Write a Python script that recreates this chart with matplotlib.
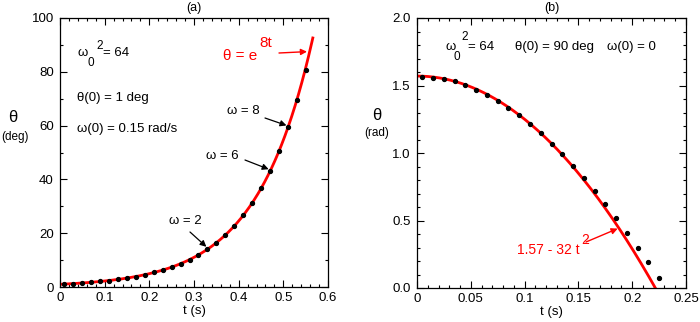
import numpy as np
import matplotlib
matplotlib.use("Agg")
import matplotlib.pyplot as plt
from matplotlib.ticker import MultipleLocator, FixedLocator, FixedFormatter

plt.rcParams['font.family'] = ['Liberation Sans', 'DejaVu Sans']

W, H = 700, 322

# ---- panel (a): growing inverted pendulum ----
t_a = [0.01, 0.03, 0.05, 0.07, 0.09, 0.11, 0.13, 0.15, 0.17, 0.19,
       0.21, 0.23, 0.25, 0.27, 0.29, 0.31, 0.33, 0.35, 0.37, 0.39,
       0.41, 0.43, 0.45, 0.47, 0.49, 0.51, 0.53, 0.55]
theta_a = [1.1, 1.3, 1.5, 1.75, 2.05, 2.4, 2.8, 3.3, 3.9, 4.6,
           5.4, 6.3, 7.4, 8.7, 10.2, 12.0, 14.0, 16.5, 19.3, 22.7,
           26.6, 31.2, 36.8, 43.0, 50.4, 59.3, 69.5, 80.6]
t_a_end = 0.566
a_xticks = [0, 0.1, 0.2, 0.3, 0.4, 0.5, 0.6]
a_xlabels = ["0", "0.1", "0.2", "0.3", "0.4", "0.5", "0.6"]
a_yticks = [0, 20, 40, 60, 80, 100]
a_ylabels = ["0", "20", "40", "60", "80", "100"]

# ---- panel (b): release from horizontal ----
t_b = [0.005, 0.015, 0.025, 0.035, 0.045, 0.055, 0.065, 0.075, 0.085,
       0.095, 0.105, 0.115, 0.125, 0.135, 0.145, 0.155, 0.165, 0.175,
       0.185, 0.195, 0.205, 0.215, 0.225]
theta_b = [1.562, 1.557, 1.547, 1.532, 1.503, 1.470, 1.433, 1.386, 1.336,
           1.280, 1.215, 1.148, 1.069, 0.993, 0.904, 0.817, 0.718, 0.619,
           0.515, 0.408, 0.297, 0.189, 0.074]
b_xticks = [0, 0.05, 0.1, 0.15, 0.2, 0.25]
b_xlabels = ["0", "0.05", "0.1", "0.15", "0.2", "0.25"]
b_yticks = [0.0, 0.5, 1.0, 1.5, 2.0]
b_ylabels = ["0.0", "0.5", "1.0", "1.5", "2.0"]

RED = "#ff0000"
FS = 9.5

fig = plt.figure(figsize=(W / 100, H / 100), dpi=100)


def px_axes(left, top, right, bottom):
    return fig.add_axes([left / W, 1 - bottom / H, (right - left) / W, (bottom - top) / H])


def style(ax, xt, xl, yt, yl, xminor, yminor):
    ax.xaxis.set_major_locator(FixedLocator(xt))
    ax.xaxis.set_major_formatter(FixedFormatter(xl))
    ax.yaxis.set_major_locator(FixedLocator(yt))
    ax.yaxis.set_major_formatter(FixedFormatter(yl))
    ax.xaxis.set_minor_locator(MultipleLocator(xminor))
    ax.yaxis.set_minor_locator(MultipleLocator(yminor))
    ax.tick_params(which='both', direction='in', top=True, right=True,
                   labelsize=FS, width=0.8)
    ax.tick_params(which='major', length=5)
    ax.tick_params(which='minor', length=2.5)
    ax.tick_params(axis='x', pad=3.5)
    ax.tick_params(axis='y', pad=4.5)
    for s in ax.spines.values():
        s.set_linewidth(0.9)


# panel (a)
axA = px_axes(60, 18, 328, 287)
tA = np.linspace(0, t_a_end, 300)
axA.plot(tA, np.exp(8 * tA), color=RED, lw=2.0, zorder=2)
axA.plot(t_a, theta_a, 'o', color='black', ms=2.8, zorder=3)
axA.set_xlim(0, 0.6)
axA.set_ylim(0, 100)
style(axA, a_xticks, a_xlabels, a_yticks, a_ylabels, 0.02, 10)
axA.set_title("(a)", fontsize=9, pad=5)
axA.set_xlabel("t (s)", fontsize=FS, labelpad=1)


def fx(ax, x, y):
    # pixel position (from top-left of figure) -> figure fraction
    return (x / W, 1 - y / H)


def ftext(x, y, s, **kw):
    kw.setdefault('fontsize', FS)
    kw.setdefault('va', 'center')
    kw.setdefault('ha', 'left')
    fig.text(x / W, 1 - y / H, s, **kw)


# y label of (a)
ftext(13, 118, "θ", fontsize=12, ha='center')
ftext(15, 137, "(deg)", fontsize=8.5, ha='center')

# parameters of (a)
ftext(77, 53, "ω")
ftext(88, 63, "0", fontsize=8.5)
ftext(96, 46, "2", fontsize=8.5)
ftext(103, 53, "= 64")
ftext(77, 98, "θ(0) = 1 deg")
ftext(77, 129, "ω(0) = 0.15 rad/s")

# red label on exponential
ftext(223, 56, "θ = e", fontsize=11, color=RED)
ftext(259, 43, "8t", fontsize=11, color=RED)
axA.annotate("", xy=(0.553, 87.5), xycoords='data',
             xytext=fx(axA, 279, 53), textcoords='figure fraction',
             arrowprops=dict(arrowstyle='-|>', color=RED, lw=1.0,
                             mutation_scale=9, shrinkA=0, shrinkB=0))

# omega labels with black arrows
omega_marks = [("ω = 8", 227, 111, 265, 118, 0.51),
               ("ω = 6", 206, 156, 245, 160, 0.47),
               ("ω = 2", 169, 221, 190, 232, 0.33)]
for txt, lx, ly, ax_, ay_, tp in omega_marks:
    ftext(lx, ly, txt)
    yv = theta_a[t_a.index(tp)]
    axA.annotate("", xy=(tp, yv + 0.6), xycoords='data',
                 xytext=fx(axA, ax_, ay_), textcoords='figure fraction',
                 arrowprops=dict(arrowstyle='-|>', color='black', lw=0.9,
                                 mutation_scale=9, shrinkA=0, shrinkB=1))

# panel (b)
axB = px_axes(417, 18, 686, 288)
tB = np.linspace(0, np.sqrt(1.57 / 32), 300)
axB.plot(tB, 1.57 - 32 * tB ** 2, color=RED, lw=2.0, zorder=2, clip_on=True)
axB.plot(t_b, theta_b, 'o', color='black', ms=2.8, zorder=3)
axB.set_xlim(0, 0.25)
axB.set_ylim(0, 2.0)
style(axB, b_xticks, b_xlabels, b_yticks, b_ylabels, 0.01, 0.1)
axB.set_title("(b)", fontsize=9, pad=5)
axB.set_xlabel("t (s)", fontsize=FS, labelpad=1)

ftext(377, 115, "θ", fontsize=12, ha='center')
ftext(377, 133, "(rad)", fontsize=8.5, ha='center')

ftext(445, 47, "ω")
ftext(453, 57, "0", fontsize=8.5)
ftext(461, 37, "2", fontsize=8.5)
ftext(468, 47, "= 64")
ftext(515, 47, "θ(0) = 90 deg")
ftext(607, 47, "ω(0) = 0")

ftext(517, 250, "1.57 - 32 t", fontsize=10, color=RED)
ftext(581, 240, "2", fontsize=10, color=RED)
axB.annotate("", xy=(0.1865, 0.44), xycoords='data',
             xytext=fx(axB, 586, 242), textcoords='figure fraction',
             arrowprops=dict(arrowstyle='-|>', color=RED, lw=1.0,
                             mutation_scale=9, shrinkA=0, shrinkB=0))

fig.savefig("out.png", dpi=100)
